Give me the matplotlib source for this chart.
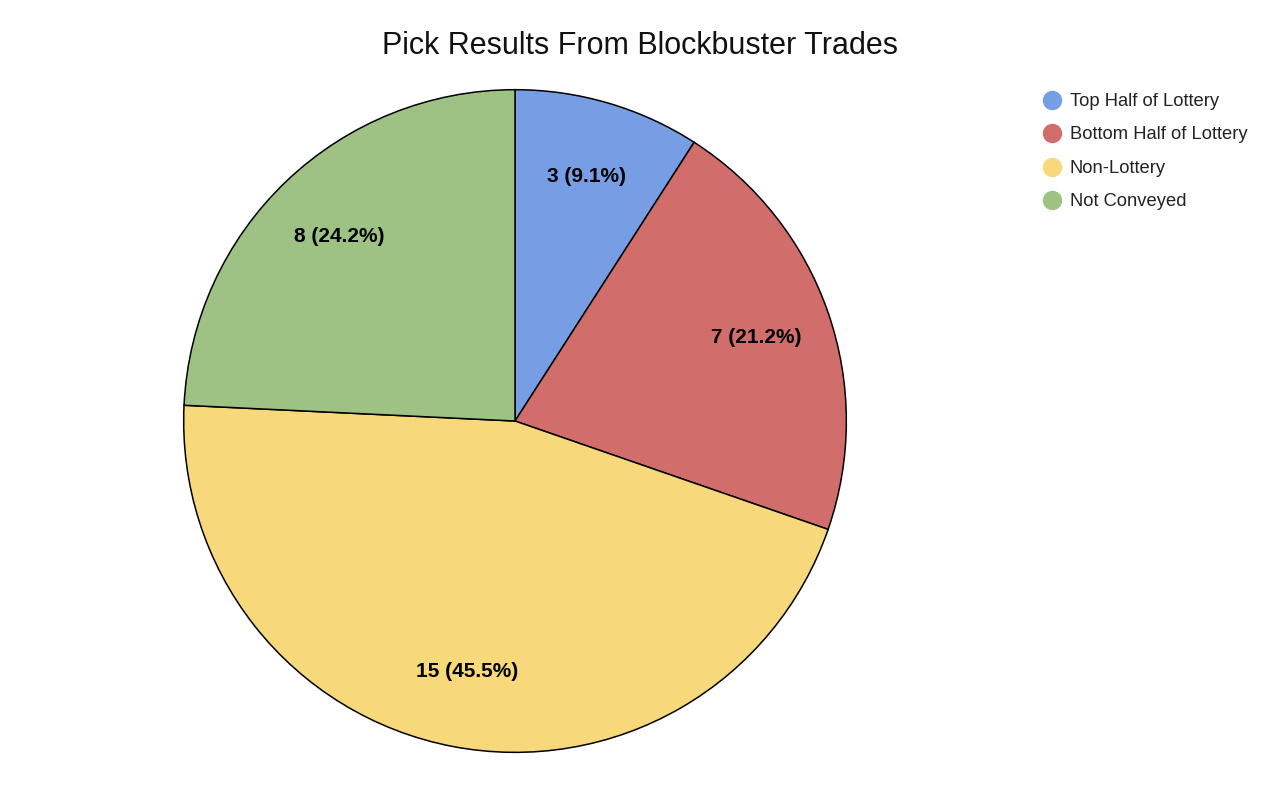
import matplotlib.pyplot as plt
from matplotlib.lines import Line2D

plt.rcParams['font.family'] = ['Liberation Sans', 'DejaVu Sans']

# pick outcomes
categories = ["Top Half of Lottery", "Bottom Half of Lottery", "Non-Lottery", "Not Conveyed"]
counts = [3, 7, 15, 8]
colors = ["#779ee5", "#d16d6a", "#f7d87a", "#9dc284"]

total = sum(counts)


def fmt(pct):
    n = int(round(pct * total / 100.0))
    return "%d (%.1f%%)" % (n, pct)


fig = plt.figure(figsize=(12.8, 7.88), dpi=100)
ax = fig.add_axes([0.1422, 0.0431, 0.5203, 0.8452])
ax.pie(counts, colors=colors, startangle=90, counterclock=False,
       autopct=fmt, pctdistance=0.77,
       wedgeprops=dict(edgecolor="black", linewidth=1.1),
       textprops=dict(fontsize=15, fontweight="bold", color="black"))
ax.set_xlim(-1.005, 1.005)
ax.set_ylim(-1.005, 1.005)

fig.text(0.5, 0.941, "Pick Results From Blockbuster Trades", ha="center", va="center",
         fontsize=22, color="#111111")

handles = [Line2D([0], [0], marker="o", linestyle="none", markersize=13,
                  markerfacecolor=c, markeredgecolor=c) for c in colors]
fig.legend(handles, categories, loc="upper left", bbox_to_anchor=(0.802, 0.903),
           frameon=False, fontsize=13.2, handletextpad=0.45, labelspacing=0.9,
           handlelength=1.0, labelcolor="#222222")

fig.savefig("out.png", dpi=100)
